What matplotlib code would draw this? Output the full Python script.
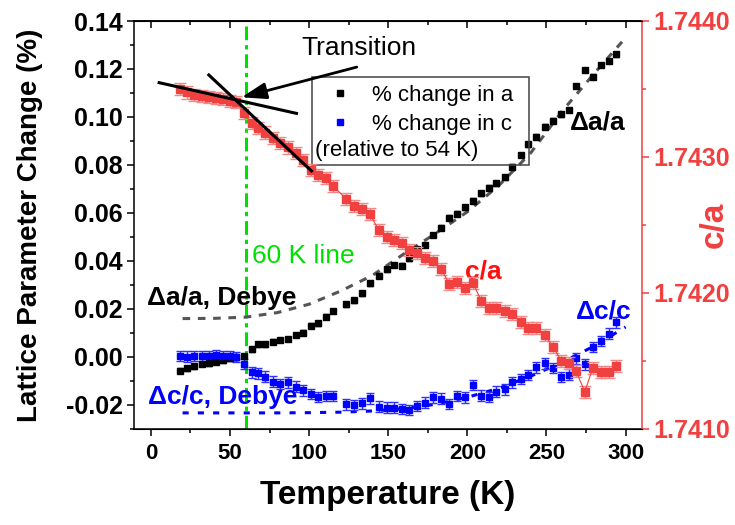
import matplotlib
matplotlib.use('Agg')
import matplotlib.pyplot as plt
from matplotlib.lines import Line2D
from matplotlib.patches import Rectangle
from matplotlib.ticker import MultipleLocator, FormatStrFormatter

plt.rcParams['font.family'] = ['Liberation Sans', 'DejaVu Sans']

# ── data ──
temps = [18.3, 23.0, 27.4, 32.0, 36.4, 41.0, 45.3, 49.7, 54.0, 59.0,
         63.6, 67.8, 72.3, 77.3, 81.7, 86.7, 91.4, 96.1, 101.0, 105.7,
         110.5, 115.2, 123.6, 128.4, 133.5, 138.3, 144.0, 148.9, 153.7, 158.4,
         163.2, 168.2, 173.1, 178.3, 183.6, 188.6, 193.5, 198.6, 203.7, 208.7,
         213.8, 218.4, 223.6, 228.5, 233.7, 238.3, 243.6, 248.9, 254.1, 259.4,
         264.0, 268.7, 274.2, 279.4, 284.7, 289.5, 294.2]

# % change in a (relative to 54 K)
da_a = [-0.0057, -0.0047, -0.0038, -0.0029, -0.0026, -0.0020, -0.0013, -0.0005, -0.0001, 0.0004,
        0.0032, 0.0053, 0.0053, 0.0064, 0.0071, 0.0075, 0.0092, 0.0102, 0.0131, 0.0140,
        0.0168, 0.0192, 0.0220, 0.0237, 0.0265, 0.0307, 0.0338, 0.0365, 0.0383, 0.0380,
        0.0411, 0.0450, 0.0467, 0.0508, 0.0539, 0.0581, 0.0597, 0.0624, 0.0651, 0.0682,
        0.0705, 0.0724, 0.0749, 0.0793, 0.0842, 0.0887, 0.0918, 0.0960, 0.0985, 0.1011,
        0.1029, 0.1129, 0.1196, 0.1168, 0.1217, 0.1233, 0.1262]

# % change in c (relative to 54 K)
dc_c = [0.0004, 0.0001, 0.0004, 0.0004, 0.0004, 0.0008, 0.0004, 0.0004, 0.0000, -0.0029,
        -0.0064, -0.0068, -0.0082, -0.0103, -0.0113, -0.0106, -0.0124, -0.0139, -0.0155, -0.0166,
        -0.0163, -0.0163, -0.0197, -0.0200, -0.0193, -0.0172, -0.0207, -0.0211, -0.0211, -0.0217,
        -0.0221, -0.0204, -0.0190, -0.0168, -0.0174, -0.0196, -0.0162, -0.0168, -0.0117, -0.0161,
        -0.0166, -0.0145, -0.0135, -0.0106, -0.0092, -0.0075, -0.0043, -0.0026, -0.0046, -0.0083,
        -0.0073, -0.0006, -0.0031, 0.0042, 0.0066, 0.0097, 0.0144]

# c/a ratio (right axis)
c_over_a = [1.743498, 1.743475, 1.743458, 1.743449, 1.743439, 1.743432, 1.743424, 1.743414, 1.743407, 1.743325,
            1.743248, 1.743211, 1.743180, 1.743140, 1.743105, 1.743070, 1.743030, 1.742978, 1.742904, 1.742870,
            1.742843, 1.742787, 1.742689, 1.742640, 1.742615, 1.742581, 1.742463, 1.742414, 1.742390, 1.742370,
            1.742316, 1.742292, 1.742255, 1.742235, 1.742174, 1.742066, 1.742083, 1.742034, 1.742071, 1.741943,
            1.741887, 1.741887, 1.741870, 1.741846, 1.741789, 1.741740, 1.741740, 1.741691, 1.741605, 1.741502,
            1.741483, 1.741426, 1.741274, 1.741451, 1.741417, 1.741421, 1.741463]

da_err = 0.0010
dc_err = 0.0022
ca_err = 0.000045

# Debye model curves
debye_T = [20, 40, 60, 80, 100, 120, 140, 160, 180, 200, 220, 240, 260, 280, 300]
debye_a = [0.0160, 0.0161, 0.0166, 0.0185, 0.0220, 0.0275, 0.0340, 0.0430, 0.0515,
           0.0605, 0.0715, 0.0850, 0.1025, 0.1180, 0.1330]
debye_c = [-0.0233, -0.0233, -0.0233, -0.0233, -0.0232, -0.0230, -0.0225, -0.0215, -0.0197,
           -0.0168, -0.0130, -0.0080, -0.0022, 0.0045, 0.0125]

# tangent lines marking the transition
tangent1_T, tangent1_y = [5.2, 92.0], [0.1143, 0.1015]
tangent2_T, tangent2_y = [36.6, 101.5], [0.1175, 0.0775]

RED = '#F04040'
BLUE = '#0000FF'
GREEN = '#00E000'

fig = plt.figure(figsize=(7.35, 5.25), dpi=100)
ax = fig.add_axes([0.1823, 0.1829, 0.6912, 0.7771])
ax2 = ax.twinx()

# ── left axis: % change ──
ax.plot(debye_T, debye_a, color='#555555', ls=(0, (2.5, 2.5)), lw=2.2, zorder=2)
ax.plot(debye_T, debye_c, color=BLUE, ls=(0, (2, 3)), lw=2.2, zorder=2)
ax.axvline(60, color=GREEN, lw=2.2, ls=(0, (4.5, 1.6, 1.4, 1.6)), zorder=1)
ax.errorbar(temps, da_a, yerr=da_err, fmt='s', ms=4, color='black', ecolor='black',
            elinewidth=1, capsize=2.5, capthick=1, zorder=3)
ax.errorbar(temps, dc_c, yerr=dc_err, fmt='s', ms=4, color=BLUE, ecolor='#3030FF',
            elinewidth=1, capsize=3, capthick=1, zorder=3)

ax.set_xlim(-10.7, 310.4)
ax.set_ylim(-0.03, 0.14)
ax.xaxis.set_major_locator(MultipleLocator(50))
ax.xaxis.set_minor_locator(MultipleLocator(25))
ax.yaxis.set_major_locator(MultipleLocator(0.02))
ax.yaxis.set_minor_locator(MultipleLocator(0.01))
ax.yaxis.set_major_formatter(FormatStrFormatter('%.2f'))
ax.tick_params(axis='both', which='major', direction='out', length=5, width=1.1)
ax.tick_params(axis='both', which='minor', direction='out', length=3, width=1.1)
ax.tick_params(axis='x', labelsize=16, pad=5)
ax.tick_params(axis='y', labelsize=18, pad=3)
for lbl in ax.get_xticklabels() + ax.get_yticklabels():
    lbl.set_fontweight('bold')
for s in ax.spines.values():
    s.set_linewidth(1.1)
ax.spines['right'].set_visible(False)

top = ax.secondary_xaxis('top')
top.xaxis.set_major_locator(MultipleLocator(50))
top.xaxis.set_minor_locator(MultipleLocator(25))
top.tick_params(which='major', direction='in', length=5, width=1.1, labeltop=False)
top.tick_params(which='minor', direction='in', length=3, width=1.1)
top.spines['top'].set_linewidth(1.1)

ax.set_xlabel('Temperature (K)', fontsize=24, fontweight='bold')
ax.xaxis.set_label_coords(0.5, -0.163)
ax.xaxis.label.set_va('center')
ax.set_ylabel('Lattice Parameter Change (%)', fontsize=20, fontweight='bold')
ax.yaxis.set_label_coords(-0.205, 0.5)
ax.yaxis.label.set_va('center')

# ── right axis: c/a ──
ax2.errorbar(temps, c_over_a, yerr=ca_err, fmt='s-', ms=6, color=RED, ecolor='#F48888',
             lw=0.8, elinewidth=1, capsize=4, capthick=1, zorder=3)
ax2.set_ylim(1.7410, 1.7440)
ax2.yaxis.set_major_locator(MultipleLocator(0.001))
ax2.yaxis.set_minor_locator(MultipleLocator(0.0005))
ax2.yaxis.set_major_formatter(FormatStrFormatter('%.4f'))
ax2.tick_params(axis='y', which='major', direction='out', length=5, width=1.1,
                colors=RED, labelsize=18, pad=3)
ax2.tick_params(axis='y', which='minor', direction='out', length=3, width=1.1, colors=RED)
for lbl in ax2.get_yticklabels():
    lbl.set_fontweight('bold')
ax2.spines['right'].set_color(RED)
ax2.spines['right'].set_linewidth(1.1)
ax2.spines['left'].set_visible(False)
ax2.set_ylabel('c/a', fontsize=24, fontweight='bold', color=RED)
ax2.yaxis.set_label_coords(1.142, 0.5)
ax2.yaxis.label.set_va('center')

# transition tangents + arrow (drawn above the red markers)
ax2.plot(tangent1_T, tangent1_y, color='black', lw=2.2, transform=ax.transData, zorder=5)
ax2.plot(tangent2_T, tangent2_y, color='black', lw=2.2, transform=ax.transData, zorder=5)
ax2.annotate('', xy=(57.3, 0.1082), xytext=(130.1, 0.1208),
             xycoords=ax.transData, textcoords=ax.transData,
             arrowprops=dict(arrowstyle='-|>,head_length=0.6,head_width=0.2', color='black',
                             lw=2, mutation_scale=25, shrinkA=0, shrinkB=0), zorder=5)
ax2.text(131.4, 0.1288, 'Transition', fontsize=19, ha='center', va='center',
         transform=ax.transData)

# ── annotations ──
ax.text(64.2, 0.042, '60 K line', color=GREEN, fontsize=19, va='center')
ax.text(-2.7, 0.0246, 'Δa/a, Debye', fontsize=19, fontweight='bold', va='center')
ax.text(-1.9, -0.0167, 'Δc/c, Debye', color=BLUE, fontsize=19, fontweight='bold', va='center')
ax.text(264.7, 0.0979, 'Δa/a', fontsize=19, fontweight='bold', va='center')
ax.text(198.4, 0.0355, 'c/a', color='#FF1010', fontsize=19, fontweight='bold', va='center')
ax.text(268.5, 0.0189, 'Δc/c', color=BLUE, fontsize=19, fontweight='bold', va='center')

# ── legend box ──
handles = [Line2D([], [], marker='s', ls='none', color='black', ms=4),
           Line2D([], [], marker='s', ls='none', color=BLUE, ms=4)]
ax.legend(handles, ['% change in a', '% change in c'], loc='upper left',
          bbox_to_anchor=(0.384, 0.843), frameon=False, fontsize=16,
          handlelength=1.0, handletextpad=0.95, borderpad=0, borderaxespad=0,
          labelspacing=0.36)
ax.add_patch(Rectangle((0.3504, 0.647), 0.4272, 0.2157, transform=ax.transAxes,
                       fill=False, edgecolor='#444444', lw=1.1, zorder=4))
ax.text(0.3563, 0.6838, '(relative to 54 K)', fontsize=16, va='center',
        transform=ax.transAxes)

ax.set_zorder(1)
ax2.set_zorder(2)
ax2.patch.set_visible(False)

fig.savefig('out.png', dpi=100, facecolor='white')
